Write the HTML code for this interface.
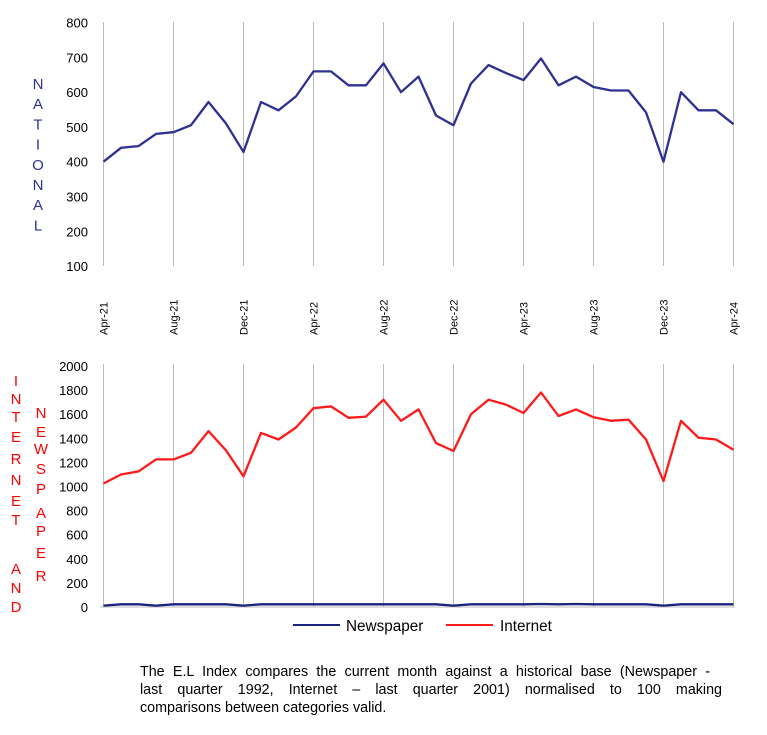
<!DOCTYPE html>
<html><head><meta charset="utf-8"><style>
body{margin:0;background:#fff;width:767px;height:735px;overflow:hidden;font-family:"Liberation Sans",sans-serif}
.note{position:absolute;left:140px;top:663px;width:582px;font-size:14.3px;line-height:18px;color:#000}
.j{text-align:justify;text-align-last:justify;white-space:nowrap}
.j2{text-align:justify;text-align-last:justify}
</style></head><body>
<svg id="s" width="767" height="735" style="position:absolute;left:0;top:0" font-family="Liberation Sans, sans-serif"></svg>
<div class="note"><div class="j2" style="width:570px">The E.L Index compares the current month against a historical base (Newspaper -</div><div class="j2">last quarter 1992, Internet – last quarter 2001) normalised to 100 making</div><div>comparisons between categories valid.</div></div>
<script>
var nat=[400,440,445,480,485,505,572,510,428,572,548,588,660,660,620,620,683,600,645,533,505,625,678,655,635,697,620,645,615,605,605,542,400,600,548,548,508];
var inet=[1025,1100,1125,1225,1225,1280,1460,1300,1085,1445,1390,1490,1650,1665,1570,1580,1720,1545,1640,1360,1295,1600,1720,1680,1610,1780,1585,1640,1575,1545,1555,1390,1045,1545,1405,1390,1305];
var news=[];for(var i=0;i<37;i++)news.push([0,3,8,20,32].indexOf(i)>=0?12:([25,27].indexOf(i)>=0?25:22));
var X=function(i){return 103.5+i*17.5};
var h='';
var labs=['Apr-21','Aug-21','Dec-21','Apr-22','Aug-22','Dec-22','Apr-23','Aug-23','Dec-23','Apr-24'];
for(var k=0;k<10;k++){var x=X(k*4);
h+='<line x1="'+x+'" y1="22" x2="'+x+'" y2="266" stroke="#bbb" stroke-width="1"/>';
h+='<line x1="'+x+'" y1="364" x2="'+x+'" y2="607" stroke="#bbb" stroke-width="1"/>';
h+='<text transform="translate('+(x+4)+',335) rotate(-90)" font-size="11">'+labs[k]+'</text>';}
var Y1=function(v){return 22.7+(800-v)*0.3476};
for(var v=100;v<=800;v+=100)h+='<text x="88" y="'+(Y1(v)+5)+'" font-size="13" text-anchor="end">'+v+'</text>';
var Y2=function(v){return 607-v*0.1205};
for(var v=0;v<=2000;v+=200)h+='<text x="88" y="'+(Y2(v)+5)+'" font-size="13" text-anchor="end">'+v+'</text>';
h+='<line x1="100" y1="607" x2="735" y2="607" stroke="#bbb"/>';
function pl(a,Y,c){return '<polyline fill="none" stroke="'+c+'" stroke-width="2.3" stroke-linejoin="round" points="'+a.map(function(v,i){return X(i)+','+Y(v).toFixed(1)}).join(' ')+'"/>';}
h+=pl(nat,Y1,'#2e3192');h+=pl(news,Y2,'#1a237e');h+=pl(inet,Y2,'#ff1a1a');
var n='NATIONAL';for(var i=0;i<8;i++)h+='<text x="38" y="'+(89+i*20.2)+'" font-size="15" fill="#2e3192" text-anchor="middle">'+n[i]+'</text>';
var a=[['I',380],['N',398],['T',416],['E',436],['R',458],['N',479],['E',500],['T',519],['A',568],['N',587],['D',606]];
a.forEach(function(p){h+='<text x="16" y="'+(p[1]+6)+'" font-size="15" fill="#ff0000" text-anchor="middle">'+p[0]+'</text>'});
var b=[['N',412],['E',431],['W',448],['S',468],['P',488],['A',512],['P',530],['E',552],['R',575]];
b.forEach(function(p){h+='<text x="41" y="'+(p[1]+6)+'" font-size="15" fill="#ff0000" text-anchor="middle">'+p[0]+'</text>'});
h+='<line x1="293" y1="625" x2="340" y2="625" stroke="#1a237e" stroke-width="2"/><text x="346" y="631" font-size="15.3">Newspaper</text>';
h+='<line x1="446" y1="625" x2="493" y2="625" stroke="#ff1a1a" stroke-width="2"/><text x="500" y="631" font-size="15.3">Internet</text>';
document.getElementById('s').innerHTML=h;
</script>
</body></html>
